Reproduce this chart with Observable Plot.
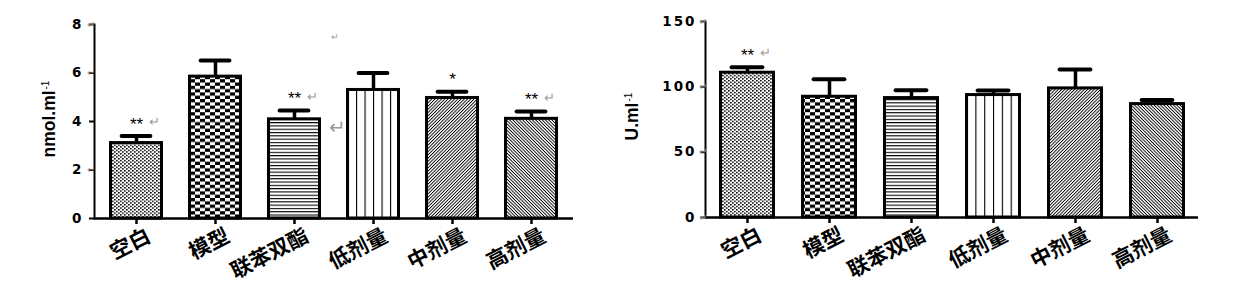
<!DOCTYPE html>
<html>
<head>
<meta charset="utf-8">
<script src="https://cdn.jsdelivr.net/npm/d3@7"></script>
<script src="https://cdn.jsdelivr.net/npm/@observablehq/plot@0.6"></script>
<style>
  body { margin: 0; background: #fff; }
  /* wide, heavy axis numerals */
  g[aria-label="y-axis tick label"] { letter-spacing: 2px; }
</style>
</head>
<body>
<svg id="figure" width="1258" height="297" viewBox="0 0 1258 297" style="display:block;background:#fff">
  <!-- fill patterns shared by both panels -->
  <defs>
    <pattern id="fineCheck" patternUnits="userSpaceOnUse" width="4" height="3.4">
      <rect width="4" height="3.4" fill="#fff"/>
      <rect x="0" y="0" width="1.7" height="1.4" fill="#000"/>
      <rect x="2" y="1.7" width="1.7" height="1.4" fill="#000"/>
    </pattern>
    <pattern id="check" patternUnits="userSpaceOnUse" width="10" height="6.6">
      <rect width="10" height="6.6" fill="#fff"/>
      <rect x="0" y="0" width="5" height="3.3" fill="#000"/>
      <rect x="5" y="3.3" width="5" height="3.3" fill="#000"/>
    </pattern>
    <pattern id="hLines" patternUnits="userSpaceOnUse" width="10" height="3.3">
      <rect width="10" height="3.3" fill="#fff"/>
      <rect x="0" y="0" width="10" height="1.1" fill="#000"/>
    </pattern>
    <pattern id="vLines" patternUnits="objectBoundingBox" width="0.166667" height="1">
      <rect x="0" y="0" width="100" height="1000" fill="#fff"/>
      <rect x="0" y="0" width="1.1" height="1000" fill="#000"/>
    </pattern>
    <pattern id="diagUp" patternUnits="userSpaceOnUse" width="10" height="2.3" patternTransform="rotate(-45)">
      <rect width="10" height="2.3" fill="#fff"/>
      <rect x="0" y="0" width="10" height="0.9" fill="#000"/>
    </pattern>
    <pattern id="diagDown" patternUnits="userSpaceOnUse" width="10" height="2.3" patternTransform="rotate(45)">
      <rect width="10" height="2.3" fill="#fff"/>
      <rect x="0" y="0" width="10" height="0.9" fill="#000"/>
    </pattern>
  </defs>
</svg>
<script>
// Treatment groups and the fill pattern used for each
const groups = ["空白", "模型", "联苯双酯", "低剂量", "中剂量", "高剂量"];
const patternIds = ["fineCheck", "check", "hLines", "vLines", "diagUp", "diagDown"];

// Left panel: nmol·ml-1
const mdaMean = [3.11, 5.85, 4.09, 5.30, 4.97, 4.11];
const mdaSem  = [0.29, 0.67, 0.36, 0.70, 0.26, 0.30];
const mdaSig  = ["**", "", "**", "", "*", "**"];
const mdaSigReturn = ["空白", "联苯双酯", "高剂量"];
const mdaTicks = [0, 2, 4, 6, 8];
const mdaTickReturns = [2, 6, 8];

// Right panel: U·ml-1
const sodMean = [110.8, 92.4, 91.4, 93.7, 98.8, 86.8];
const sodSem  = [4.2, 13.4, 6.0, 3.5, 14.5, 3.1];
const sodSig  = ["**", "", "", "", "", ""];
const sodSigReturn = ["空白"];
const sodTicks = [0, 50, 100, 150];
const sodTickReturns = [0, 50, 100, 150];

const LATIN = "'Liberation Sans', Arial, sans-serif";
const CJK = "'Noto Sans CJK SC', 'Liberation Sans', sans-serif";
const GREY = "#9a9a9a";

function panel(o) {
  const rows = groups.map((g, i) => ({
    group: g, mean: o.mean[i], top: o.mean[i] + o.sem[i], sig: o.sig[i],
    pattern: `url(#${patternIds[i]})`
  }));
  const chart = Plot.plot({
    width: o.width, height: 297,
    marginLeft: o.ml, marginRight: o.mr, marginTop: o.mt, marginBottom: o.mb,
    x: {type: "band", domain: groups, paddingInner: 0.32, paddingOuter: 0.16, axis: null},
    y: {domain: o.domain, axis: null},
    color: {type: "identity"},
    style: {fontFamily: LATIN, color: "#000", background: "transparent", overflow: "visible"},
    marks: [
      Plot.barY(rows, {x: "group", y: "mean", fill: "pattern", stroke: "#000", strokeWidth: 3,
        insetLeft: 1.5, insetRight: 1.5}),
      Plot.ruleX(rows, {x: "group", y1: "mean", y2: "top", stroke: "#000", strokeWidth: 3.5}),
      Plot.tickY(rows, {x: "group", y: "top", stroke: "#000", strokeWidth: 4,
        insetLeft: 12.6, insetRight: 12.6, strokeLinecap: "round"}),
      Plot.ruleY([0], {stroke: "#000", strokeWidth: 2.5}),
      Plot.frame({anchor: "left", stroke: "#000", strokeWidth: 2}),
      Plot.axisX({tickSize: 6, strokeWidth: 2.5, tickFormat: () => "", label: null}),
      Plot.axisY(o.ticks, {tickSize: 5, strokeWidth: 2, tickPadding: o.pad, fontSize: 13.5,
        fontWeight: "bold", fontFamily: "'DejaVu Sans', sans-serif", label: null}),
      Plot.text(o.tickReturns, {y: d => d, frameAnchor: "left", text: () => "↵", dx: o.retDx,
        fill: GREY, fontSize: 10}),
      Plot.text(rows, {x: "group", y: "top", text: "sig", dy: -12, fontSize: 17}),
      Plot.text(rows.filter(d => o.sigReturn.includes(d.group)), {x: "group", y: "top",
        text: () => "↵", dx: 12, dy: -14, textAnchor: "start", fill: GREY, fontSize: 13}),
      // slanted category labels under the bars
      Plot.text(groups, {x: d => d, frameAnchor: "bottom", text: d => d, rotate: -27,
        textAnchor: "end", lineAnchor: "top", dx: 9, dy: 9, fontWeight: "bold", fontSize: 21,
        fontFamily: CJK}),
      // axis title with its exponent
      Plot.text([o.title], {frameAnchor: "bottom-left", text: d => d, rotate: -90,
        textAnchor: "start", dx: o.titleDx, dy: o.titleDy, fontSize: 17.5, fontWeight: "bold"}),
      Plot.text(["-1"], {frameAnchor: "bottom-left", text: d => d, rotate: -90,
        textAnchor: "start", dx: o.titleDx - 6, dy: o.expDy, fontSize: 10}),
      ...(o.extra || [])
    ]
  });
  // both panels sit side by side inside one figure
  chart.setAttribute("x", o.left);
  chart.setAttribute("y", 0);
  document.getElementById("figure").appendChild(chart);
  return chart;
}

panel({
  left: 0, width: 630, ml: 94, mr: 57, mt: 24, mb: 79,
  mean: mdaMean, sem: mdaSem, sig: mdaSig, sigReturn: mdaSigReturn,
  domain: [0, 8], ticks: mdaTicks, tickReturns: mdaTickReturns, pad: 6, retDx: -7.5,
  title: "nmol.ml", titleDx: -40, titleDy: -61, expDy: -129,
  extra: [
    Plot.text([7.46], {x: () => "低剂量", y: d => d, text: () => "↵", dx: -39, fill: GREY, fontSize: 9}),
    Plot.text([3.74], {x: () => "低剂量", y: d => d, text: () => "↵", dx: -36, fill: GREY, fontSize: 20})
  ]
});

panel({
  left: 630, width: 628, ml: 75, mr: 60, mt: 21, mb: 80,
  mean: sodMean, sem: sodSem, sig: sodSig, sigReturn: sodSigReturn,
  domain: [0, 150], ticks: sodTicks, tickReturns: sodTickReturns, pad: 4, retDx: -6.5,
  title: "U.ml", titleDx: -68, titleDy: -77, expDy: -116
});
</script>
</body>
</html>
